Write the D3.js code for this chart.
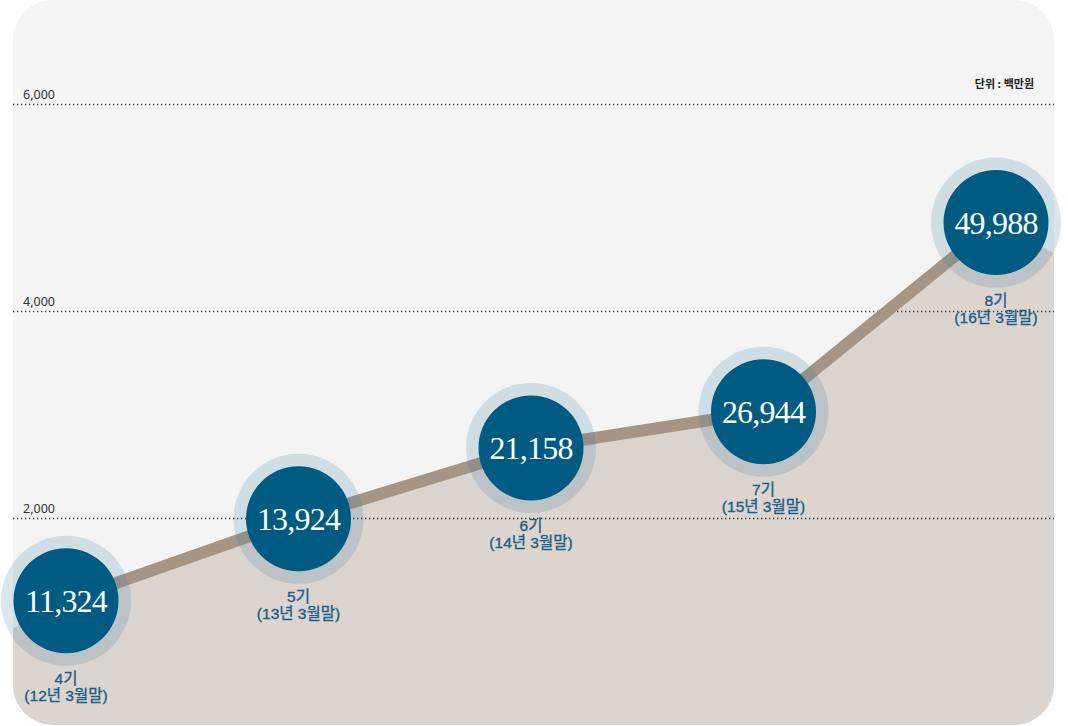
<!DOCTYPE html>
<html>
<head>
<meta charset="utf-8">
<script src="https://cdn.jsdelivr.net/npm/d3@7"></script>
<style>
  html, body { margin: 0; padding: 0; background: #ffffff; }
  svg { display: block; }
</style>
</head>
<body>
<svg id="chart" width="1068" height="726"></svg>
<script>
// ---- data ----
const periods = ["4기", "5기", "6기", "7기", "8기"];
const dateLabels = ["(12년 3월말)", "(13년 3월말)", "(14년 3월말)", "(15년 3월말)", "(16년 3월말)"];
const valueLabels = ["11,324", "13,924", "21,158", "26,944", "49,988"];
const plotValues = [1205, 1995, 2680, 3030, 4855];
const edgeValues = [936, 4560]; // area height at left / right panel edges
const yTicks = [2000, 4000, 6000];
const unitLabel = "단위 : 백만원";

// ---- layout ----
const panel = { x: 13, y: 0, w: 1041, h: 725, r: 40 };
const svg = d3.select("#chart");

const x = d3.scalePoint().domain(periods).range([66, 996]);
const y = d3.scaleLinear().domain([0, 6000]).range([725.5, 104]);

const defs = svg.append("defs");
defs.append("clipPath").attr("id", "panelClip")
  .append("rect")
  .attr("x", panel.x).attr("y", panel.y)
  .attr("width", panel.w).attr("height", panel.h)
  .attr("rx", panel.r).attr("ry", panel.r);

svg.append("rect")
  .attr("x", panel.x).attr("y", panel.y)
  .attr("width", panel.w).attr("height", panel.h)
  .attr("rx", panel.r).attr("ry", panel.r)
  .attr("fill", "#f3f4f3");

// area
const areaPts = [{ px: panel.x, v: edgeValues[0] }]
  .concat(periods.map((p, i) => ({ px: x(p), v: plotValues[i] })))
  .concat([{ px: panel.x + panel.w, v: edgeValues[1] }]);

const area = d3.area()
  .x(d => d.px)
  .y0(panel.y + panel.h)
  .y1(d => y(d.v));

svg.append("path")
  .attr("clip-path", "url(#panelClip)")
  .attr("d", area(areaPts))
  .attr("fill", "#dcd4cf");

// gridlines
const grid = svg.append("g");
grid.selectAll("line").data(yTicks).join("line")
  .attr("x1", panel.x).attr("x2", panel.x + panel.w)
  .attr("y1", d => Math.round(y(d)) + 0.5).attr("y2", d => Math.round(y(d)) + 0.5)
  .attr("stroke", "#3a3a3a").attr("stroke-width", 1.3)
  .attr("stroke-dasharray", "1.3,2.7");
grid.selectAll("text").data(yTicks).join("text")
  .attr("x", 23).attr("y", d => y(d) - 5)
  .attr("font-family", "'Noto Sans', 'Open Sans', sans-serif")
  .attr("font-size", 12.5)
  .attr("fill", "#333")
  .text(d => d3.format(",")(d));

svg.append("text")
  .attr("x", 1034).attr("y", 88)
  .attr("text-anchor", "end")
  .attr("font-family", "'Noto Sans CJK KR', sans-serif")
  .attr("font-weight", "bold")
  .attr("font-size", 11)
  .attr("fill", "#222")
  .text(unitLabel);

// line
const line = d3.line().x((d, i) => x(periods[i])).y(d => y(d));
svg.append("path")
  .attr("d", line(plotValues))
  .attr("fill", "none")
  .attr("stroke", "#a69584")
  .attr("stroke-width", 12);

// circles
const nodes = svg.append("g").selectAll("g").data(plotValues).join("g")
  .attr("transform", (d, i) => `translate(${x(periods[i])},${y(d)})`);

nodes.append("circle").attr("r", 65)
  .attr("fill", "#2b73a0").attr("fill-opacity", 0.18);
nodes.append("circle").attr("r", 52.5)
  .attr("fill", "#005b82");
nodes.append("text")
  .attr("y", 11)
  .attr("text-anchor", "middle")
  .attr("font-family", "'Liberation Serif', 'Times New Roman', serif")
  .attr("font-size", 32)
  .attr("letter-spacing", -0.8)
  .attr("fill", "#ffffff")
  .text((d, i) => valueLabels[i]);

const sub = nodes.append("text")
  .attr("text-anchor", "middle")
  .attr("font-family", "'Liberation Sans', 'Noto Sans CJK KR', sans-serif")
  .attr("font-size", 15.5)
  .attr("fill", "#1b5e87")
  .attr("stroke", "#1b5e87")
  .attr("stroke-width", 0.35);
sub.append("tspan").attr("x", 0).attr("y", 83).text((d, i) => periods[i]);
sub.append("tspan").attr("x", 0).attr("y", 100.5).text((d, i) => dateLabels[i]);
</script>
</body>
</html>
